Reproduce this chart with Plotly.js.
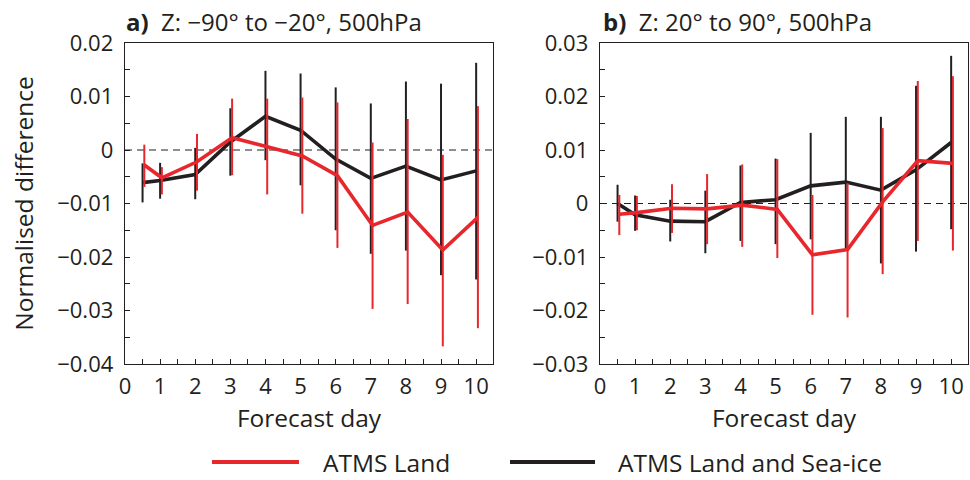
<!DOCTYPE html>
<html>
<head>
<meta charset="utf-8">
<script src="https://cdn.plot.ly/plotly-3.0.1.min.js"></script>
<style>html,body{margin:0;padding:0;background:#fff;}#chart{width:970px;height:480px;}</style>
</head>
<body>
<div id="chart"></div>
<script>
// ---- data ----
const days = [0.5, 1, 2, 3, 4, 5, 6, 7, 8, 9, 10];
const seriesNames = ["ATMS Land", "ATMS Land and Sea-ice"];
const panelTitles = ["Z: \u221290\u00b0 to \u221220\u00b0, 500hPa", "Z: 20\u00b0 to 90\u00b0, 500hPa"];
const panelLetters = ["a)", "b)"];
const xTitle = "Forecast day";
const yTitle = "Normalised difference";

// Panel a: Z -90 to -20
const aLandMean = [-0.0028, -0.0052, -0.0022, 0.0023, 0.0006, -0.0011, -0.0048, -0.0141, -0.0116, -0.0187, -0.0126];
const aLandHigh = [0.0010, -0.0032, 0.0030, 0.0096, 0.0096, 0.0098, 0.0089, 0.0014, 0.0058, -0.0009, 0.0082];
const aLandLow  = [-0.0069, -0.0083, -0.0076, -0.0047, -0.0083, -0.0119, -0.0183, -0.0297, -0.0288, -0.0367, -0.0333];
const aIceMean  = [-0.0061, -0.0057, -0.0046, 0.0015, 0.0063, 0.0037, -0.0017, -0.0053, -0.0030, -0.0056, -0.0039];
const aIceHigh  = [-0.0025, -0.0024, 0.0004, 0.0078, 0.0148, 0.0143, 0.0117, 0.0087, 0.0128, 0.0124, 0.0163];
const aIceLow   = [-0.0098, -0.0091, -0.0092, -0.0048, -0.0019, -0.0066, -0.0150, -0.0194, -0.0188, -0.0234, -0.0242];

// Panel b: Z 20 to 90
const bLandMean = [-0.0020, -0.0017, -0.0009, -0.0010, -0.0003, -0.0011, -0.0096, -0.0086, 0.0003, 0.0080, 0.0075];
const bLandHigh = [0.0016, 0.0014, 0.0036, 0.0055, 0.0073, 0.0083, 0.0016, 0.0038, 0.0141, 0.0229, 0.0238];
const bLandLow  = [-0.0059, -0.0050, -0.0055, -0.0076, -0.0081, -0.0102, -0.0208, -0.0213, -0.0132, -0.0070, -0.0088];
const bIceMean  = [0.0000, -0.0021, -0.0033, -0.0034, 0.0002, 0.0007, 0.0033, 0.0040, 0.0025, 0.0063, 0.0114];
const bIceHigh  = [0.0035, 0.0015, 0.0007, 0.0024, 0.0071, 0.0084, 0.0132, 0.0162, 0.0162, 0.0220, 0.0276];
const bIceLow   = [-0.0034, -0.0051, -0.0071, -0.0093, -0.0070, -0.0076, -0.0067, -0.0084, -0.0112, -0.0090, -0.0048];

// ---- styling ----
const RED = '#e8272d';
const BLACK = '#231f20';
const FONT = 'Open Sans, Noto Sans, sans-serif';

function trace(mean, hi, lo, color, name, xa, ya) {
  return {
    type: 'scatter', mode: 'lines', name: name, showlegend: false,
    x: days, y: mean, xaxis: xa, yaxis: ya,
    line: {color: color, width: 3.6},
    error_y: {
      type: 'data', symmetric: false,
      array: hi.map((v, i) => v - mean[i]),
      arrayminus: lo.map((v, i) => mean[i] - v),
      color: color, thickness: 2, width: 0
    },
    hoverinfo: 'x+y'
  };
}

const data = [
  trace(aIceMean, aIceHigh, aIceLow, BLACK, seriesNames[1], 'x', 'y'),
  trace(aLandMean, aLandHigh, aLandLow, RED, seriesNames[0], 'x3', 'y'),
  trace(bIceMean, bIceHigh, bIceLow, BLACK, seriesNames[1], 'x2', 'y2'),
  trace(bLandMean, bLandHigh, bLandLow, RED, seriesNames[0], 'x4', 'y2')
];

const W = 970, H = 480;
const domA = [125 / W, 493 / W];
const domB = [600 / W, 968 / W];
const domY = [(H - 364) / H, (H - 43) / H];
const XMAX = 10.48;
const DODGE = 0.05;

function xaxisDef(dom, anchor) {
  return {
    domain: dom, anchor: anchor, range: [0, XMAX],
    dtick: 1, tick0: 0, ticks: 'inside', ticklen: 5, tickwidth: 1, tickcolor: BLACK,
    minor: {dtick: 0.5, ticks: 'inside', ticklen: 5, tickwidth: 1, tickcolor: BLACK},
    showline: true, linecolor: BLACK, linewidth: 1.3, mirror: true,
    showgrid: false, zeroline: false,
    tickfont: {family: FONT, size: 22, color: BLACK},
    ticklabelstandoff: 2,
    title: {text: xTitle, font: {family: FONT, size: 24.5, color: BLACK}, standoff: 11},
    fixedrange: true
  };
}
function yaxisDef(anchor, range) {
  return {
    domain: domY, anchor: anchor, range: range,
    dtick: 0.01, tick0: 0, ticks: 'inside', ticklen: 5, tickwidth: 1, tickcolor: BLACK,
    minor: {dtick: 0.005, ticks: 'inside', ticklen: 5, tickwidth: 1, tickcolor: BLACK},
    showline: true, linecolor: BLACK, linewidth: 1.3, mirror: true,
    showgrid: false, zeroline: false,
    tickfont: {family: FONT, size: 22, color: BLACK},
    ticklabelstandoff: 6,
    fixedrange: true
  };
}

const yA = yaxisDef('x', [-0.04, 0.02]);
yA.title = {text: yTitle, font: {family: FONT, size: 24.5, color: BLACK}, standoff: 16};
const yB = yaxisDef('x2', [-0.03, 0.03]);

const layout = {
  width: W, height: H,
  margin: {l: 0, r: 0, t: 0, b: 0},
  paper_bgcolor: '#fff', plot_bgcolor: '#fff',
  showlegend: false,
  xaxis: xaxisDef(domA, 'y'),
  xaxis2: xaxisDef(domB, 'y2'),
  xaxis3: {domain: domA, anchor: 'y', overlaying: 'x', range: [-DODGE, XMAX - DODGE], visible: false, fixedrange: true},
  xaxis4: {domain: domB, anchor: 'y2', overlaying: 'x2', range: [-DODGE, XMAX - DODGE], visible: false, fixedrange: true},
  yaxis: yA,
  yaxis2: yB,
  shapes: [
    {type: 'line', xref: 'x domain', yref: 'y', x0: 0, x1: 1, y0: 0, y1: 0, line: {color: BLACK, width: 1.2, dash: '7px,5px'}, layer: 'below'},
    {type: 'line', xref: 'x2 domain', yref: 'y2', x0: 0, x1: 1, y0: 0, y1: 0, line: {color: BLACK, width: 1.2, dash: '7px,5px'}, layer: 'below'},
    // legend keys
    {type: 'line', xref: 'paper', yref: 'paper', x0: 212 / W, x1: 299 / W, y0: (H - 462) / H, y1: (H - 462) / H, line: {color: RED, width: 4}},
    {type: 'line', xref: 'paper', yref: 'paper', x0: 510 / W, x1: 595 / W, y0: (H - 462) / H, y1: (H - 462) / H, line: {color: BLACK, width: 4}}
  ],
  annotations: [
    {xref: 'paper', yref: 'paper', x: 124 / W, y: (H - 22) / H, xanchor: 'left', yanchor: 'middle', showarrow: false,
     text: '<b>' + panelLetters[0] + '</b>\u00a0\u00a0' + panelTitles[0], font: {family: FONT, size: 24, color: BLACK}},
    {xref: 'paper', yref: 'paper', x: 601 / W, y: (H - 22) / H, xanchor: 'left', yanchor: 'middle', showarrow: false,
     text: '<b>' + panelLetters[1] + '</b>\u00a0\u00a0' + panelTitles[1], font: {family: FONT, size: 24, color: BLACK}},
    {xref: 'paper', yref: 'paper', x: 321 / W, y: (H - 462) / H, xanchor: 'left', yanchor: 'middle', showarrow: false,
     text: seriesNames[0], font: {family: FONT, size: 24.5, color: BLACK}},
    {xref: 'paper', yref: 'paper', x: 616 / W, y: (H - 462) / H, xanchor: 'left', yanchor: 'middle', showarrow: false,
     text: seriesNames[1], font: {family: FONT, size: 24.5, color: BLACK}}
  ]
};

Plotly.newPlot('chart', data, layout, {staticPlot: true, displayModeBar: false});
</script>
</body>
</html>
